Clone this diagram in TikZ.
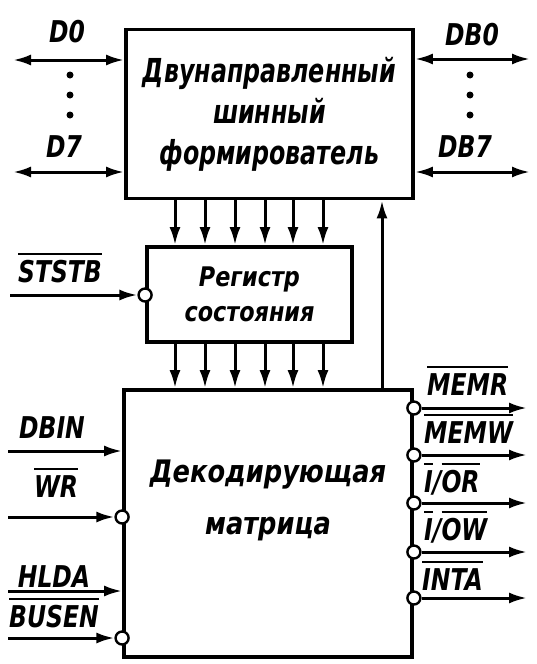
\documentclass[tikz,border=0pt]{standalone}
\usepackage{fontspec}
\setmainfont{DejaVu Sans Condensed}
\newfontfamily\sigfont{DejaVu Sans Condensed Bold Oblique}[FakeStretch=0.87]
\newfontfamily\bdffont{DejaVu Sans Condensed Bold Oblique}[FakeStretch=0.8]
\newfontfamily\blkfont{DejaVu Sans Condensed Bold Oblique}[FakeStretch=0.92]
\usetikzlibrary{arrows.meta}
\newcommand{\ovl}[1]{\setbox0=\hbox{#1}\rlap{\rule[\dimexpr\ht0+5pt\relax]{\wd0}{1.8pt}}\box0}
\tikzset{
  blk/.style={draw, line width=3.8pt, align=center},
  sig/.style={font=\fontsize{30}{34}\sigfont, inner sep=0pt, anchor=base},
  arr/.style={line width=3pt, -{Latex[length=18pt,width=11pt]}},
  biarr/.style={line width=3pt, {Latex[length=18pt,width=11pt]}-{Latex[length=18pt,width=11pt]}},
  inv/.style={circle, draw, fill=white, line width=2.4pt, inner sep=0pt, minimum size=13pt},
  dotmark/.style={circle, fill, inner sep=0pt, minimum size=7pt}
}

\begin{document}
\begin{tikzpicture}[x=1pt,y=-1pt]
\useasboundingbox (0,0) rectangle (537,664);
% blocks
\node[blk, minimum width=287pt, minimum height=169pt, font=\fontsize{33}{41}\bdffont] (bdf) at (269.5,114) {Двунаправленный\\шинный\\формирователь};
\node[blk, minimum width=205pt, minimum height=95pt, font=\fontsize{27}{35}\blkfont] (reg) at (249.5,294.5) {Регистр\\состояния};
\node[blk, minimum width=288pt, minimum height=267pt] (dec) at (268,523.5) {};
\node[align=center, font=\fontsize{31}{52}\blkfont] (dectxt) at ([yshift=23pt]dec.center) {Декодирующая\\матрица};

% data bus
\coordinate (d0) at (13,60);
\coordinate (d7) at (13,172);
\coordinate (db0) at (530,59);
\coordinate (db7) at (530,172);
\draw[biarr] (d0) -- (d0 -| bdf.west);
\draw[biarr] (d7) -- (d7 -| bdf.west);
\draw[biarr] (bdf.east |- db0) -- (db0);
\draw[biarr] (bdf.east |- db7) -- (db7);
\node[sig] (ld0) at (67,42) {D0};
\node[sig] (ld7) at (64,157) {D7};
\node[sig] (ldb0) at (472,45) {DB0};
\node[sig] (ldb7) at (465,157) {DB7};
\foreach \y in {75,95,115} {
  \node[dotmark] at (70,\y) {};
  \node[dotmark] at (470,\y) {};
}

% internal buses
\foreach \x in {175,205,235,265,293,323} {
  \draw[arr] (\x,0 |- bdf.south) -- (\x,0 |- reg.north);
  \draw[arr] (\x,0 |- reg.south) -- (\x,0 |- dec.north);
}
\draw[arr] (382,0 |- dec.north) -- (382,0 |- bdf.south);

% status strobe
\node[inv] (iststb) at (reg.west |- 0,295) {};
\coordinate (ststb) at (10,295);
\draw[arr] (ststb) -- (iststb);
\node[sig] (lststb) at (60,282) {\ovl{STSTB}};

% decoder inputs
\coordinate (dbin) at (8,451);
\coordinate (wr) at (8,517);
\coordinate (hlda) at (8,591);
\coordinate (busen) at (8,638);
\node[inv] (iwr) at (dec.west |- wr) {};
\node[inv] (ibusen) at (dec.west |- busen) {};
\draw[arr] (dbin) -- (dbin -| dec.west);
\draw[arr] (wr) -- (iwr);
\draw[arr] (hlda) -- (hlda -| dec.west);
\draw[arr] (busen) -- (ibusen);
\node[sig] (ldbin) at (52,438) {DBIN};
\node[sig] (lwr) at (56,497) {\ovl{WR}};
\node[sig] (lhlda) at (54,587) {HLDA};
\node[sig] (lbusen) at (54,627) {\ovl{BUSEN}};

% decoder outputs
\foreach \n/\y in {memr/408,memw/455,ior/503,iow/552,inta/598} {
  \node[inv] (i\n) at (dec.east |- 0,\y) {};
  \coordinate (\n) at (527,\y);
  \draw[arr] (i\n) -- (\n);
}
\node[sig, anchor=base west] (lmemr) at (427,395) {\ovl{MEMR}};
\node[sig, anchor=base west] (lmemw) at (424,443) {\ovl{MEMW}};
\node[sig, anchor=base west] (lior) at (424,492) {\ovl{I}/\ovl{OR}};
\node[sig, anchor=base west] (liow) at (424,540) {\ovl{I}/\ovl{OW}};
\node[sig, anchor=base west] (linta) at (422,590) {\ovl{INTA}};
\end{tikzpicture}
\end{document}
